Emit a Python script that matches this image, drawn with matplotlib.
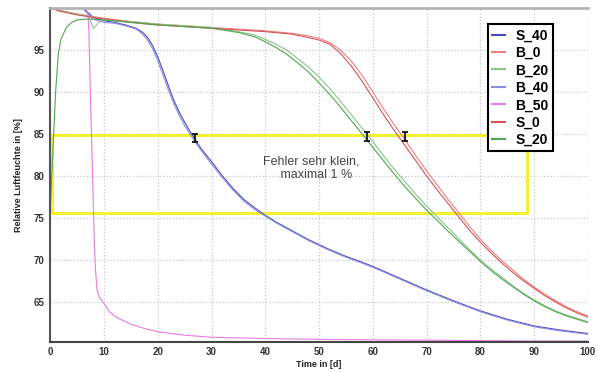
import matplotlib.pyplot as plt

plt.rcParams['font.family'] = ['Liberation Sans', 'DejaVu Sans']

# S_0 / B_0 (rot)
x_b0 = [0, 2, 5, 10, 15, 20, 25, 30, 35, 40, 45, 48, 50, 52, 54, 56, 58, 60, 62, 64, 66, 68, 70,
        72, 74, 76, 78, 80, 82, 84, 86, 88, 90, 92, 94, 96, 98, 100]
y_b0 = [100, 99.7, 99.3, 98.8, 98.4, 98.1, 97.9, 97.7, 97.5, 97.3, 97.0, 96.7, 96.4, 95.9, 95.0,
        93.7, 92.0, 90.0, 88.0, 86.1, 84.3, 82.4, 80.6, 78.9, 77.2, 75.6, 73.95, 72.45, 71.1,
        69.9, 68.8, 67.7, 66.75, 65.9, 65.1, 64.4, 63.8, 63.3]
x_s0 = [0, 2, 5, 10, 15, 20, 25, 30, 35, 40, 45, 48, 50, 52, 54, 56, 58, 60, 62, 64, 66, 68, 70,
        72, 74, 76, 78, 80, 82, 84, 86, 88, 90, 92, 94, 96, 98, 100]
y_s0 = [100, 99.6, 99.2, 98.7, 98.3, 98.0, 97.8, 97.6, 97.4, 97.2, 96.9, 96.5, 96.2, 95.7, 94.6,
        93.1, 91.3, 89.3, 87.3, 85.4, 83.6, 81.8, 80.0, 78.3, 76.7, 75.1, 73.5, 72.1, 70.8,
        69.6, 68.5, 67.5, 66.6, 65.7, 64.95, 64.25, 63.65, 63.15]

# B_20 / S_20 (gruen)
x_b20 = [0, 2, 5, 7, 7.5, 8, 8.5, 9, 10, 15, 20, 25, 30, 35, 38, 40, 42, 44, 46, 48, 50, 52, 54,
         56, 58, 60, 62, 64, 66, 68, 70, 72, 74, 76, 78, 80, 82, 84, 86, 88, 90, 92, 94, 96,
         98, 100]
y_b20 = [100, 99.7, 99.3, 99.1, 98.5, 97.6, 97.9, 98.3, 98.6, 98.4, 98.1, 97.9, 97.7, 97.2,
         96.8, 96.3, 95.7, 95.0, 94.0, 93.0, 91.8, 90.4, 88.9, 87.3, 85.7, 84.1, 82.4, 80.8,
         79.3, 77.8, 76.4, 75.1, 73.8, 72.5, 71.2, 70.0, 68.9, 67.9, 66.9, 66.0, 65.2, 64.5,
         63.9, 63.4, 63.0, 62.6]
x_s20 = [0, 0.5, 1, 1.5, 2, 3, 4, 5, 7, 10, 15, 20, 25, 30, 35, 38, 40, 42, 44, 46, 48, 50, 52,
         54, 56, 58, 60, 62, 64, 66, 68, 70, 72, 74, 76, 78, 80, 82, 84, 86, 88, 90, 92, 94,
         96, 98, 100]
y_s20 = [76, 83, 90, 94.5, 96.3, 97.7, 98.3, 98.6, 98.7, 98.6, 98.3, 98.0, 97.8, 97.6, 97.1,
         96.6, 96.0, 95.3, 94.5, 93.5, 92.4, 91.1, 89.7, 88.2, 86.6, 85.0, 83.4, 81.8, 80.2,
         78.7, 77.3, 75.9, 74.7, 73.4, 72.2, 71.0, 69.8, 68.7, 67.7, 66.8, 65.9, 65.1, 64.4,
         63.8, 63.3, 62.9, 62.5]

# S_40 / B_40 (blau)
x_s40 = [0, 6, 7, 8, 10, 12, 14, 16, 17, 18, 19, 20, 21, 22, 23, 24, 25, 26, 27, 28, 30, 32, 34,
         36, 38, 40, 42, 44, 46, 48, 50, 52, 55, 58, 60, 65, 70, 75, 80, 85, 90, 95, 100]
y_s40 = [100, 100, 99.5, 98.9, 98.5, 98.3, 98.0, 97.6, 97.2, 96.6, 95.6, 94.2, 92.5, 90.7, 89.0,
         87.6, 86.4, 85.3, 84.3, 83.3, 81.7, 80.0, 78.5, 77.2, 76.2, 75.3, 74.5, 73.8, 73.1,
         72.4, 71.8, 71.2, 70.4, 69.7, 69.2, 67.8, 66.4, 65.1, 63.9, 62.9, 62.1, 61.6, 61.2]
x_b40 = [0, 6, 7, 8, 10, 12, 14, 16, 17, 18, 19, 20, 21, 22, 23, 24, 25, 26, 27, 28, 30, 32, 34,
         36, 38, 40, 42, 44, 46, 48, 50, 52, 55, 58, 60, 65, 70, 75, 80, 85, 90, 95, 100]
y_b40 = [100, 100, 99.3, 98.7, 98.3, 98.2, 97.9, 97.5, 97.0, 96.3, 95.2, 93.7, 92.0, 90.2, 88.6,
         87.2, 86.0, 85.0, 84.0, 83.1, 81.4, 79.8, 78.3, 77.0, 76.0, 75.2, 74.4, 73.7, 73.0,
         72.3, 71.7, 71.1, 70.3, 69.6, 69.1, 67.7, 66.3, 65.0, 63.8, 62.8, 62.0, 61.5, 61.1]

# B_50 (magenta)
x_b50 = [0, 6.5, 7, 7.2, 7.5, 7.8, 8.0, 8.2, 8.4, 8.7, 9.2, 10, 11, 12.4, 15, 17.5, 20, 25, 30,
         40, 50, 60, 70, 80, 90, 100]
y_b50 = [100, 100, 99.5, 97, 89, 82, 77, 72, 69, 66.4, 65.5, 64.8, 63.8, 63.1, 62.3, 61.8, 61.4,
         61.0, 60.75, 60.6, 60.5, 60.45, 60.4, 60.35, 60.3, 60.3]

# Fehlerbalken und Fehlerbereich
err_x = [27, 59, 66]
err_y = [84.5, 84.7, 84.7]
err = [0.5, 0.5, 0.5]
box_x = [0.4, 88.7]
box_y = [75.6, 84.9]

fig = plt.figure(figsize=(5.98, 3.72), dpi=100)
ax = fig.add_axes([0.084, 0.081, 0.899, 0.897])

ax.grid(True, color='#c8c8c8', linestyle=':', linewidth=0.9)
ax.set_axisbelow(True)

ax.plot([box_x[0], box_x[1], box_x[1], box_x[0], box_x[0]],
        [box_y[1], box_y[1], box_y[0], box_y[0], box_y[1]],
        color='#f2f230', linewidth=2.2, zorder=1.5)

lw = 0.8
ax.plot(x_s40, y_s40, color='#4a4ac0', lw=lw, label='S_40')
ax.plot(x_b0, y_b0, color='#ea8080', lw=lw, label='B_0')
ax.plot(x_b20, y_b20, color='#8cc48c', lw=lw, label='B_20')
ax.plot(x_b40, y_b40, color='#8c8ce2', lw=lw, label='B_40')
ax.plot(x_b50, y_b50, color='#e47ce4', lw=lw, label='B_50')
ax.plot(x_s0, y_s0, color='#d45555', lw=lw, label='S_0')
ax.plot(x_s20, y_s20, color='#50a850', lw=lw, label='S_20')

ax.errorbar(err_x, err_y, yerr=err, fmt='none', ecolor='#111111', elinewidth=1.3,
            capsize=2.5, capthick=1.3, zorder=4)

ax.text(48.5, 80.9, 'Fehler sehr klein,\n   maximal 1 %', ha='center', va='center',
        fontsize=9, color='#444444', linespacing=1.25)

ax.set_xlim(0, 100)
ax.set_ylim(60.2, 100)
ax.set_xticks(range(0, 101, 10))
ax.set_yticks(range(65, 100, 5))
ax.tick_params(length=0, labelsize=7, labelcolor='#333333', pad=4)
for lab in ax.get_xticklabels() + ax.get_yticklabels():
    lab.set_fontweight('bold')

ax.set_xlabel('Time in [d]', fontsize=6.5, fontweight='bold', color='#222222', labelpad=2)
ax.set_ylabel('Relative Luftfeuchte in [%]', fontsize=6.5, fontweight='bold', color='#222222',
              labelpad=8)

ax.spines['right'].set_visible(False)
ax.spines['top'].set_color('#b4b4b4')
ax.spines['top'].set_linewidth(2)
ax.spines['left'].set_color('#555555')
ax.spines['left'].set_linewidth(1.5)
ax.spines['bottom'].set_color('#444444')
ax.spines['bottom'].set_linewidth(1.5)

leg = ax.legend(loc='upper left', bbox_to_anchor=(0.814, 0.952),
                prop={'weight': 'bold', 'size': 10}, handlelength=0.9, handletextpad=0.8,
                labelspacing=0.25, borderpad=0.3, fancybox=False, framealpha=1,
                edgecolor='black', borderaxespad=0)
leg.get_frame().set_linewidth(1.5)
for line in leg.get_lines():
    line.set_linewidth(1.5)

fig.savefig('out.png', dpi=100)
